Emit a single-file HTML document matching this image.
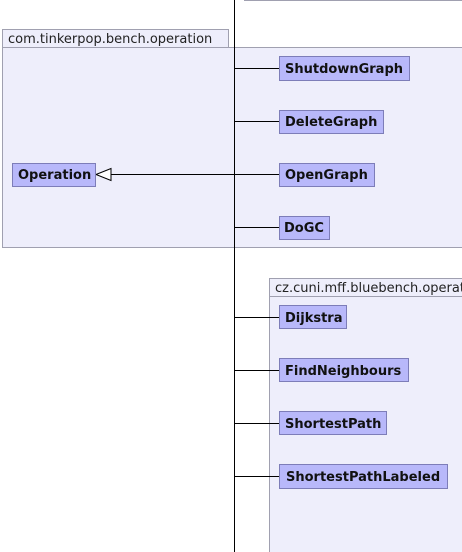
<!DOCTYPE html>
<html><head><meta charset="utf-8"><style>
html,body{margin:0;padding:0;background:#fff;width:462px;height:552px;overflow:hidden}
svg{display:block}
.pk{fill:#eeeefb;stroke:#a0a0b0;stroke-width:1}
.bx{fill:#b8b8fa;stroke:#7d7db8;stroke-width:1}
.t{font-family:"DejaVu Sans","Liberation Sans",sans-serif;font-weight:bold;font-size:13px;fill:#111}
.p{font-family:"DejaVu Sans","Liberation Sans",sans-serif;font-size:13px;fill:#222}
</style></head><body>
<svg width="462" height="552" viewBox="0 0 462 552">
<line x1="244" y1="0.5" x2="462" y2="0.5" stroke="#a0a0b0"/>
<rect class="pk" x="2.5" y="29.5" width="226" height="18"/>
<rect class="pk" x="2.5" y="47.5" width="462" height="200"/>
<text class="p" x="8" y="43">com.tinkerpop.bench.operation</text>
<rect class="pk" x="269.5" y="278.5" width="200" height="18"/>
<rect class="pk" x="269.5" y="296.5" width="200" height="260"/>
<text class="p" x="275" y="292">cz.cuni.mff.bluebench.operation</text>
<line x1="234.5" y1="0" x2="234.5" y2="552" stroke="#000"/>
<g stroke="#000">
<line x1="234" y1="68.5" x2="279" y2="68.5"/>
<line x1="234" y1="121.5" x2="279" y2="121.5"/>
<line x1="111" y1="174.5" x2="279" y2="174.5"/>
<line x1="234" y1="227.5" x2="279" y2="227.5"/>
<line x1="234" y1="317.5" x2="279" y2="317.5"/>
<line x1="234" y1="370.5" x2="279" y2="370.5"/>
<line x1="234" y1="423.5" x2="279" y2="423.5"/>
<line x1="234" y1="476.5" x2="279" y2="476.5"/>
</g>
<polygon points="96,174.5 111,168.5 111,180.5" fill="#fff" stroke="#000"/>
<rect class="bx" x="12.5" y="163.5" width="83" height="23"/><text class="t" x="18" y="179">Operation</text>
<rect class="bx" x="279.5" y="56.5" width="130" height="24"/><text class="t" x="285" y="73">ShutdownGraph</text>
<rect class="bx" x="279.5" y="110.5" width="104" height="23"/><text class="t" x="285" y="126">DeleteGraph</text>
<rect class="bx" x="279.5" y="163.5" width="95" height="23"/><text class="t" x="285" y="179">OpenGraph</text>
<rect class="bx" x="279.5" y="216.5" width="50" height="23"/><text class="t" x="284" y="232">DoGC</text>
<rect class="bx" x="279.5" y="305.5" width="67" height="23"/><text class="t" x="285" y="322">Dijkstra</text>
<rect class="bx" x="279.5" y="358.5" width="129" height="23"/><text class="t" x="285" y="375">FindNeighbours</text>
<rect class="bx" x="279.5" y="411.5" width="107" height="23"/><text class="t" x="285" y="428">ShortestPath</text>
<rect class="bx" x="279.5" y="464.5" width="168" height="24"/><text class="t" x="286" y="481">ShortestPathLabeled</text>
</svg>
</body></html>
